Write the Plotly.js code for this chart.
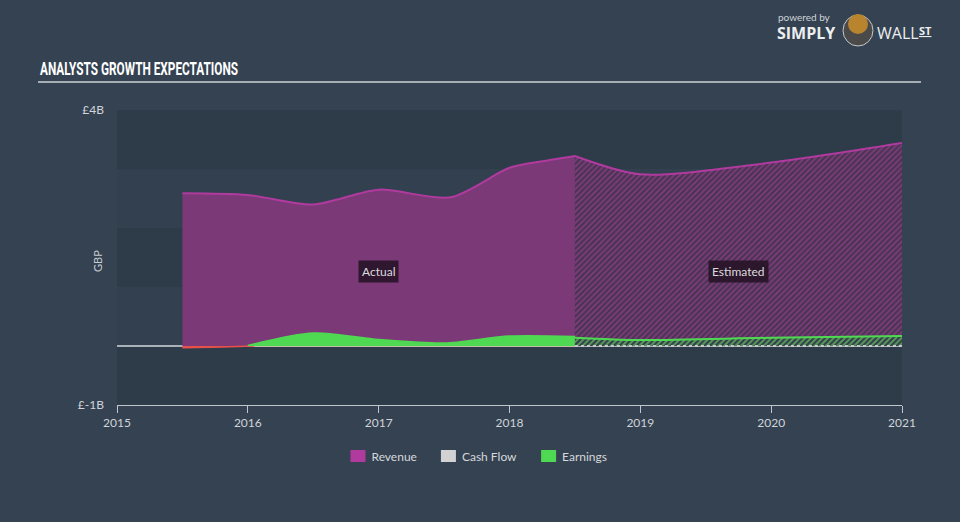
<!DOCTYPE html>
<html>
<head>
<meta charset="utf-8">
<script src="https://cdn.plot.ly/plotly-3.0.1.min.js"></script>
<style>
html,body{margin:0;padding:0;background:#344252;}
#chart{width:960px;height:522px;}
</style>
</head>
<body>
<div id="chart"></div>
<script>
// ---- data (GBP billions) ----
const revenueActualX = [2015.5, 2016.0, 2016.5, 2017.0, 2017.55, 2018.0, 2018.25, 2018.5];
const revenueActualY = [2.59, 2.56, 2.40, 2.65, 2.52, 3.02, 3.13, 3.22];
const revenueEstX = [2018.5, 2019.0, 2020.0, 2021.0];
const revenueEstY = [3.22, 2.91, 3.11, 3.44];

const earningsNegX = [2015.5, 2015.8, 2016.05];
const earningsNegY = [-0.03, -0.015, 0.0];
const earningsActualX = [2016.0, 2016.5, 2017.0, 2017.5, 2018.0, 2018.5];
const earningsActualY = [0.01, 0.22, 0.11, 0.05, 0.17, 0.16];
const earningsEstX = [2018.5, 2019.0, 2020.0, 2021.0];
const earningsEstY = [0.14, 0.10, 0.14, 0.17];

const cashFlowActualX = [2016.0, 2017.0, 2018.0, 2018.5];
const cashFlowActualY = [0.0, 0.0, 0.0, 0.0];
const cashFlowEstX = [2018.5, 2019.0, 2020.0, 2021.0];
const cashFlowEstY = [0.0, 0.0, 0.0, 0.0];

const yearTicks = [2015, 2016, 2017, 2018, 2019, 2020, 2021];
const yTickVals = [4, -1];
const yTickText = ['£4B', '£-1B'];

// ---- styles ----
const REV_LINE = '#b13a9f';
const REV_FILL = '#7b3a77';
const EARN = '#4fd952';
const CASH = '#d2d2d2';
const FONT = 'Lato, "DejaVu Sans", sans-serif';
const TITLE = 'ANALYSTS GROWTH EXPECTATIONS';
const LEGEND_SWATCH = [REV_LINE, CASH, EARN];

// pixel -> paper helpers (plot area 117..902 x, 110..405 y)
const px = v => (v - 117) / 785;
const py = v => (405 - v) / 295;

const traces = [
  {x: revenueActualX, y: revenueActualY, type: 'scatter', mode: 'lines', name: 'Revenue',
   line: {color: REV_LINE, width: 2, shape: 'spline', smoothing: 0.8},
   fill: 'tozeroy', fillcolor: REV_FILL, legendrank: 1, hoverinfo: 'skip'},
  {x: revenueEstX, y: revenueEstY, type: 'scatter', mode: 'lines', showlegend: false,
   line: {color: REV_LINE, width: 2, shape: 'spline', smoothing: 0.8},
   fill: 'tozeroy', fillcolor: 'rgba(0,0,0,0)',
   fillpattern: {shape: '/', fgcolor: '#7c3b7a', bgcolor: '#46344f', size: 4, solidity: 0.5},
   hoverinfo: 'skip'},
  {x: cashFlowActualX, y: cashFlowActualY, type: 'scatter', mode: 'lines', name: 'Cash Flow',
   line: {color: '#cfc3a8', width: 1.5}, fill: 'tozeroy', fillcolor: CASH, legendrank: 2, hoverinfo: 'skip'},
  {x: earningsNegX, y: earningsNegY, type: 'scatter', mode: 'lines', showlegend: false,
   line: {color: '#e8504c', width: 1.5, shape: 'spline'}, fill: 'tozeroy', fillcolor: '#e8504c', hoverinfo: 'skip'},
  {x: earningsActualX, y: earningsActualY, type: 'scatter', mode: 'lines', name: 'Earnings',
   line: {color: EARN, width: 1.5, shape: 'spline', smoothing: 0.8},
   fill: 'tozeroy', fillcolor: EARN, legendrank: 3, hoverinfo: 'skip'},
  {x: earningsEstX, y: earningsEstY, type: 'scatter', mode: 'lines', showlegend: false,
   line: {color: EARN, width: 2, shape: 'spline', smoothing: 0.8},
   fill: 'tozeroy', fillcolor: 'rgba(0,0,0,0)',
   fillpattern: {shape: '/', fgcolor: '#5a9a5a', bgcolor: '#2f3d4b', size: 4, solidity: 0.5},
   hoverinfo: 'skip'},
  {x: cashFlowEstX, y: cashFlowEstY, type: 'scatter', mode: 'lines', showlegend: false,
   line: {color: '#c8c8c8', width: 2, dash: 'dot'}, hoverinfo: 'skip'}
];

const bandDark = '#2e3c4a';
const shapes = [];
[[3, 4], [1, 2], [-1, 0]].forEach(b => shapes.push({
  type: 'rect', xref: 'paper', yref: 'y', x0: 0, x1: 1, y0: b[0], y1: b[1],
  fillcolor: bandDark, line: {width: 0}, layer: 'below'}));
shapes.push({type: 'line', xref: 'paper', yref: 'paper', x0: px(38), x1: px(921), y0: py(82), y1: py(82),
  line: {color: '#a7adb5', width: 2}});
// logo head
shapes.push({type: 'circle', xref: 'paper', yref: 'paper', x0: px(843), x1: px(873), y0: py(46), y1: py(15),
  fillcolor: '#4a4a4a', line: {color: '#c8c8c8', width: 1}});
shapes.push({type: 'circle', xref: 'paper', yref: 'paper', x0: px(848), x1: px(868), y0: py(34), y1: py(14),
  fillcolor: '#b8842e', line: {width: 0}});

const annotations = [
  {text: TITLE, xref: 'paper', yref: 'paper', x: px(38), y: py(68),
   xanchor: 'left', yanchor: 'middle', showarrow: false,
   font: {family: 'Roboto, "DejaVu Sans", sans-serif', size: 19, color: '#ffffff', weight: 'bold'}},
  {text: 'GBP', xref: 'paper', yref: 'paper', x: px(97), y: py(261), textangle: -90,
   xanchor: 'center', yanchor: 'middle', showarrow: false,
   font: {family: FONT, size: 11, color: '#c8ccd0'}},
  {text: 'Actual', x: 2017.0, y: 1.27, xref: 'x', yref: 'y', showarrow: false,
   bgcolor: 'rgba(35,18,35,0.85)', borderpad: 3, font: {family: FONT, size: 12, color: '#dcdcdc'}},
  {text: 'Estimated', x: 2019.75, y: 1.27, xref: 'x', yref: 'y', showarrow: false,
   bgcolor: 'rgba(35,18,35,0.85)', borderpad: 3, font: {family: FONT, size: 12, color: '#dcdcdc'}},
  {text: 'powered by', xref: 'paper', yref: 'paper', x: px(776), y: py(17), xanchor: 'left', yanchor: 'middle',
   showarrow: false, font: {family: FONT, size: 10, color: '#d0d4d8'}},
  {text: 'SIMPLY', xref: 'paper', yref: 'paper', x: px(775), y: py(33), xanchor: 'left', yanchor: 'middle',
   showarrow: false, font: {family: '"Open Sans", sans-serif', size: 16, color: '#eceef0', weight: 'bold'}},
  {text: 'WALL', xref: 'paper', yref: 'paper', x: px(875), y: py(33), xanchor: 'left', yanchor: 'middle',
   showarrow: false, font: {family: '"Open Sans", sans-serif', size: 16, color: '#eceef0'}},
  {text: '<u>ST</u>', xref: 'paper', yref: 'paper', x: px(917), y: py(30), xanchor: 'left', yanchor: 'middle',
   showarrow: false, font: {family: '"Open Sans", sans-serif', size: 11, color: '#eceef0', weight: 'bold'}}
];

const layout = {
  width: 960, height: 522,
  margin: {l: 117, r: 58, t: 110, b: 117, pad: 0},
  paper_bgcolor: '#344252', plot_bgcolor: '#324050',
  showlegend: true,
  legend: {orientation: 'h', x: px(472), xanchor: 'center', y: py(456), yanchor: 'middle',
    font: {family: FONT, size: 12, color: '#d6d8da'}, bgcolor: 'rgba(0,0,0,0)', traceorder: 'normal'},
  xaxis: {range: [2015, 2021], tickvals: yearTicks, ticktext: yearTicks.map(String),
    showgrid: false, zeroline: false, showline: true, linecolor: '#c0c6cc', linewidth: 1,
    ticks: 'outside', ticklen: 7, tickcolor: '#c0c6cc', tickfont: {family: FONT, size: 12, color: '#d0d4d8'},
    fixedrange: true},
  yaxis: {range: [-1, 4], tickvals: yTickVals, ticktext: yTickText, showgrid: false,
    zeroline: true, zerolinecolor: '#a9b0b8', zerolinewidth: 1.5, showline: false, ticks: '',
    ticklabelstandoff: 12,
    tickfont: {family: FONT, size: 12, color: '#d0d4d8'},
    fixedrange: true},
  shapes: shapes,
  annotations: annotations
};

Plotly.newPlot('chart', traces, layout, {displayModeBar: false, staticPlot: true}).then(gd => {
  // condense the heading to mimic the narrow display face
  gd.querySelectorAll('.annotation-text').forEach(el => {
    if (el.textContent === TITLE) {
      const bb = el.getBBox();
      el.setAttribute('text-anchor', 'start');
      el.setAttribute('x', bb.x);
      el.setAttribute('textLength', 198);
      el.setAttribute('lengthAdjust', 'spacingAndGlyphs');
    }
  });
  // square legend swatches
  gd.querySelectorAll('.legend .traces').forEach((g, i) => {
    g.querySelectorAll('.legendlines path').forEach(p => p.style.display = 'none');
    const fills = g.querySelectorAll('.legendfill path');
    fills.forEach((p, k) => {
      if (k === 0) {
        p.setAttribute('d', 'M19,-6h15v12h-15Z');
        p.style.fill = LEGEND_SWATCH[i] || REV_LINE;
        p.style.fillOpacity = 1;
        p.style.stroke = 'none';
      } else {
        p.style.display = 'none';
      }
    });
  });
});
</script>
</body>
</html>
